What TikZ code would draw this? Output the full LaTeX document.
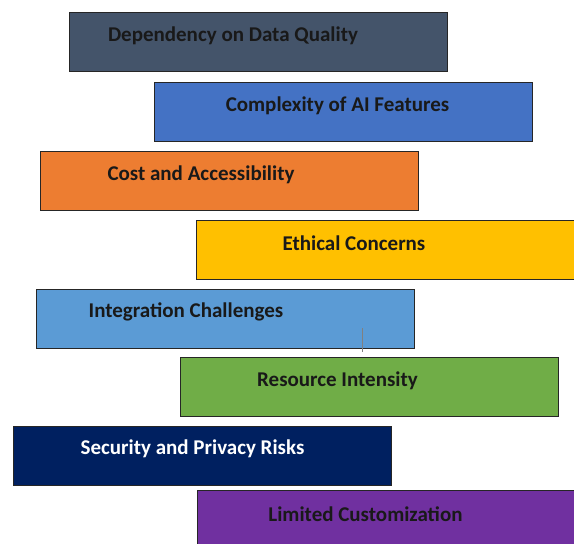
\documentclass[tikz,border=0pt]{standalone}
\usepackage{fontspec}
\setmainfont{Carlito}
\begin{document}
\begin{tikzpicture}[x=1pt,y=-1pt,
  bar/.style={draw=black!85,line width=0.8pt,minimum width=378pt,minimum height=59pt,inner sep=0pt,anchor=north west},
  lbl/.style={font=\bfseries\fontsize{21}{25}\selectfont,text=black!90,anchor=center,inner sep=0pt}]
\useasboundingbox (0,0) rectangle (574,544);
\clip (0,0) rectangle (574,544);
\definecolor{cA}{HTML}{44546A}
\definecolor{cB}{HTML}{4472C4}
\definecolor{cC}{HTML}{ED7D31}
\definecolor{cD}{HTML}{FFC000}
\definecolor{cE}{HTML}{5B9BD5}
\definecolor{cF}{HTML}{70AD47}
\definecolor{cG}{HTML}{002060}
\definecolor{cH}{HTML}{7030A0}
% stacked bars
\node[bar,fill=cA] (b1) at (69,12) {};
\node[bar,fill=cB] (b2) at (154,82) {};
\node[bar,fill=cC] (b3) at (40,151) {};
\node[bar,fill=cD] (b4) at (196,220) {};
\node[bar,fill=cE] (b5) at (36,289) {};
\node[bar,fill=cF] (b6) at (180,357) {};
\node[bar,fill=cG] (b7) at (13,426) {};
\node[bar,fill=cH] (b8) at (197,490) {};
% labels
\node[lbl] (t1) at (233,36) {Dependency on Data Quality};
\node[lbl] (t2) at (337.5,106) {Complexity of AI Features};
\node[lbl] (t3) at (201,175) {Cost and Accessibility};
\node[lbl] (t4) at (354,243) {Ethical Concerns};
\node[lbl] (t5) at (186,312) {Integration Challenges};
\node[lbl] (t6) at (337.5,381) {Resource Intensity};
\node[lbl,text=white] (t7) at (192.5,449) {Security and Privacy Risks};
\node[lbl] (t8) at (365.5,514) {Limited Customization};
% short tick between the two bars
\coordinate (k1) at (362,328);
\coordinate (k2) at (362,352);
\draw[gray,line width=0.8pt] (k1) -- (k2);
\end{tikzpicture}
\end{document}
